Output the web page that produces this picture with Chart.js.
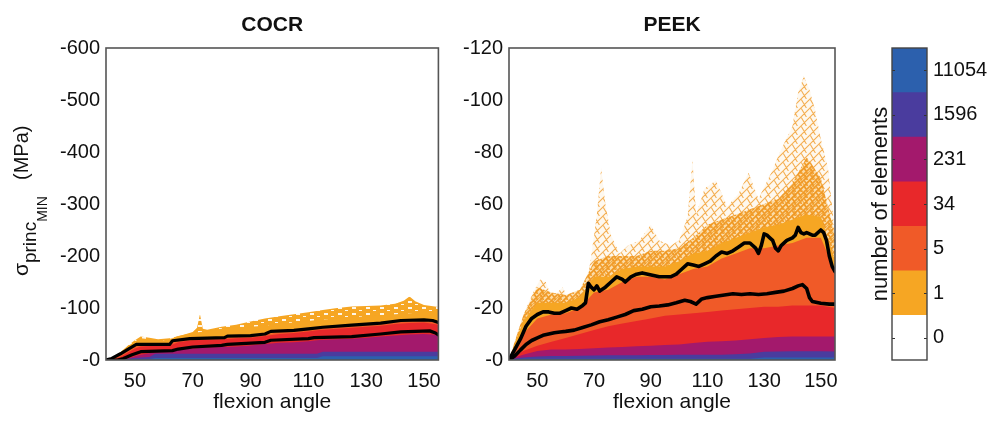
<!DOCTYPE html>
<html><head><meta charset="utf-8">
<script src="https://cdn.jsdelivr.net/npm/chart.js@4.4.1/dist/chart.umd.min.js"></script>
<style>
html,body{margin:0;padding:0;background:#fff;}
#wrap{position:relative;width:998px;height:426px;overflow:hidden;background:#fff;}
canvas{position:absolute;top:0;}
</style></head><body>
<div id="wrap">
<canvas id="c1" width="450" height="426" style="left:0;width:450px;height:426px"></canvas>
<canvas id="c2" width="400" height="426" style="left:450px;width:400px;height:426px"></canvas>
<canvas id="c3" width="148" height="426" style="left:850px;width:148px;height:426px"></canvas>
</div>
<script>
// ---------- shared ----------
const xTicks = [50, 70, 90, 110, 130, 150];
const cocrYTicks = [-600, -500, -400, -300, -200, -100, 0];
const peekYTicks = [-120, -100, -80, -60, -40, -20, 0];
const cbLabels = ['0', '1', '5', '34', '231', '1596', '11054'];
const cbColors = ['#ffffff', '#f6a623', '#f05a28', '#e8282a', '#a3196c', '#4a3c9e', '#2c60ad'];

// ---------- COCR ----------
const cocrAngles = [40,42,45,48,50,52,55,57,60,63,65,70,75,80,85,90,95,100,105,110,113,115,120,125,130,135,140,145,150,155];
const cocrBlue = [0,0,0,-1,-1,-1.5,-2,-4,-4,-4,-4,-4,-4,-4,-4,-4,-4,-4,-4,-4,-4,-7,-7,-7,-7,-7,-7,-7,-7,-7];
const cocrIndigo = [0,0,-1,-3,-4,-5,-6,-12,-12,-12,-12,-12,-12,-12,-12,-12,-12,-12,-12,-12,-12,-16,-16,-16,-16,-16,-16,-16,-16,-16];
const cocrMagenta = [0,0,-1,-4,-7,-10,-13,-15,-16,-17,-19,-22,-24,-25,-26,-28,-31,-33,-34,-36,-38,-39,-40,-41,-43,-45,-47,-49,-50,-48];
const cocrRed = [0,-1,-6,-16,-22,-26,-27,-27,-27,-30,-34,-38,-39,-40,-42,-43,-46,-50,-52,-55,-57,-58,-60,-62,-64,-66,-69,-71,-72,-68];
const cocrOrangeRed = [0,-2,-10,-20,-26,-29,-30,-30,-30,-34,-37,-40,-41,-42,-44,-46,-49,-54,-56,-59,-61,-62,-64,-66,-68,-70,-73,-75,-76,-72];
const cocrOrange = [0,-3,-15,-28,-36,-42,-40,-38,-38,-42,-46,-52,-56,-60,-63,-64,-66,-70,-72,-75,-77,-78,-80,-82,-84,-86,-88,-90,-92,-92];
const cocrSparseX = [40,42,45,48,50,52,55,58,62,66,70,71.5,72.5,73.5,75,80,85,90,95,100,105,110,115,120,125,130,135,140,143,145,147,150,155];
const cocrSparseY = [0,-3,-15,-30,-38,-45,-43,-40,-42,-47,-54,-62,-88,-60,-58,-64,-68,-74,-80,-84,-88,-92,-96,-100,-103,-104,-105,-108,-114,-122,-113,-106,-102];
const cocrUpperX = [40,42,45,48,50.5,62,63,69,81,82,90,95,97,105,110,115,125,135,142,150,153,155];
const cocrUpperY = [0,-3,-12,-22,-30,-30,-37,-41,-43,-46,-47,-50,-55,-57,-60,-63,-67,-71,-76,-77,-76,-72];
const cocrLowerX = [40,44,46,49,52,63,65,70,80,82,95,97,110,112,125,135,142,152,154,155];
const cocrLowerY = [0,0,-3,-10,-16,-18,-21,-25,-28,-30,-34,-38,-41,-43,-45,-50,-54,-56,-52,-48];

// ---------- PEEK ----------
const peekAngles = [40,42,45,50,55,60,65,70,75,80,85,90,95,100,105,110,115,120,125,130,135,140,145,150,155];
const peekBlue = [0,-0.3,-0.5,-0.5,-0.5,-0.5,-0.5,-0.5,-0.5,-0.5,-0.5,-0.5,-0.5,-0.5,-0.5,-0.5,-0.5,-0.5,-0.5,-1,-1,-1,-1,-1,-1];
const peekIndigo = [0,-0.6,-1,-1.3,-1.5,-1.5,-1.6,-1.7,-1.8,-1.8,-1.8,-1.9,-1.9,-2,-2,-2,-2,-2.2,-2.5,-3.2,-3.3,-3.4,-3.4,-3.4,-3.3];
const peekMagenta = [0,-1,-2,-3.5,-4,-4,-4.2,-4.5,-4.8,-5,-5.3,-5.5,-5.8,-6,-6.5,-7,-7.2,-7.5,-8,-8.5,-8.8,-9,-9,-9,-9];
const peekRed = [0,-1.5,-3.5,-5.5,-7,-8.5,-10,-11.5,-13,-14,-15,-16,-17,-17.5,-18,-18.5,-19,-19.5,-20,-20.5,-20.5,-21,-21,-21,-20];
const peekOrangeRed = [0,-4,-10,-16,-17.5,-18,-20,-26,-27,-30,-32,-32,-31,-33,-35,-36,-39,-41,-43,-43,-44,-45,-47,-47,-34];
const peekOrange = [0,-6,-15,-22,-22,-22,-24,-32,-32,-35,-36,-36,-36,-38,-41,-42,-45,-47,-49,-51,-52,-54,-56,-55,-38];
const peekMid = [0,-7,-17,-28,-26,-25,-27,-38,-40,-40,-40,-42,-42,-43,-47,-52,-54,-56,-58,-60,-62,-68,-78,-70,-48];
const peekSparseX = [40,43,46,49,51,53,55,57,59,61,64,67,69,71,72.5,74,76,79,82,86,90,93,97,100,103,104.7,106,109,113,117,121,124.5,128,132.5,136,140,142,144,146,148,150,152.5,154.3,155];
const peekSparseY = [0,-10,-20,-27,-31,-30,-24,-26,-28,-23,-25,-26,-40,-56,-74,-60,-48,-41,-44,-46,-52,-46,-44,-46,-55,-77,-56,-66,-69,-59,-64,-72,-62,-72,-81,-90,-103,-109,-104,-96,-85,-74,-56,-45];
const peekUpperX = [40,42,44,46,48,50,52,54,56,58,60,62,64,66,67,68,69,70,71,72,74,76,78,80,81,83,85,87,89,91,93,95,97,99,101,103,105,107,109,111,113,115,117,119,121,123,125,127,128,129,130,131,132,133,134,135,136,138,140,141,142,143,144,145,146,147,148,150,151,152,153,154,155];
const peekUpperY = [0,-4,-8,-13,-16,-17.5,-18.5,-18.5,-18,-18,-19,-20,-19.5,-21,-22,-29.5,-28,-27,-28.5,-26.5,-28,-30,-32,-31,-30,-32,-33,-33.5,-33,-32.5,-32,-32,-32,-33,-35,-37,-36.5,-36,-37,-38,-40,-41.5,-41,-42,-43.5,-45,-45,-43,-41,-44,-48.5,-48,-47,-46,-43,-42,-44,-46,-47,-48,-51,-49,-48.5,-49,-48.5,-48,-48,-50,-49,-46,-40,-36,-34];
const peekLowerX = [40,42,44,46,48,50,52,54,56,58,60,63,66,69,72,75,78,81,84,87,90,93,96,99,102,104,106,108,110,113,116,119,122,125,128,131,134,137,140,142,143.5,145,146,147,150,153,155];
const peekLowerY = [0,-1.5,-3.8,-6,-7.5,-8.5,-9.5,-10,-10.5,-10.8,-11,-11.5,-12.5,-13.5,-14.7,-15.5,-16.5,-17.5,-19,-19.5,-20.5,-20.8,-21.2,-22,-23,-22.5,-21.5,-23.5,-24,-24.5,-25,-25.5,-25.2,-25.5,-25.2,-25.5,-26,-26.5,-27.5,-28.5,-29,-27.5,-24,-22.5,-21.8,-21.5,-21.5];

// ---------- helpers ----------
Chart.defaults.font.family = "'Liberation Sans', Arial, Helvetica, sans-serif";
Chart.defaults.color = '#111';

function hatch(size, lineAlpha, bgAlpha, lw) {
  const c = document.createElement('canvas');
  c.width = size; c.height = size;
  const g = c.getContext('2d');
  g.fillStyle = 'rgba(246,166,35,' + bgAlpha + ')';
  g.fillRect(0, 0, size, size);
  g.strokeStyle = 'rgba(240,150,30,' + lineAlpha + ')';
  g.lineWidth = lw;
  g.beginPath();
  g.moveTo(0, size); g.lineTo(size, 0);
  g.moveTo(-size / 2, size / 2); g.lineTo(size / 2, -size / 2);
  g.moveTo(size / 2, size * 1.5); g.lineTo(size * 1.5, size / 2);
  g.moveTo(0, 0); g.lineTo(size * 0.6, size);
  g.stroke();
  return g.createPattern(c, 'repeat');
}

function speckle() {
  const c = document.createElement('canvas');
  c.width = 14; c.height = 6;
  const g = c.getContext('2d');
  g.fillStyle = '#f6a623';
  g.fillRect(0, 0, 14, 6);
  g.fillStyle = 'rgba(255,255,255,0.9)';
  g.fillRect(2, 1, 4, 2);
  g.fillRect(9, 4, 3, 1);
  return g.createPattern(c, 'repeat');
}

function pts(xs, ys) { return xs.map((x, i) => ({ x: x, y: ys[i] })); }
function band(xs, ys, color) {
  return { data: pts(xs, ys), borderWidth: 0, borderColor: 'rgba(0,0,0,0)', pointRadius: 0,
           fill: 'origin', backgroundColor: color, tension: 0 };
}
function bline(xs, ys, w) {
  return { data: pts(xs, ys), borderColor: '#000', borderWidth: w, pointRadius: 0, fill: false,
           tension: 0, borderJoinStyle: 'round', borderCapStyle: 'round' };
}

const framePlugin = {
  id: 'frame',
  afterDatasetsDraw(chart) {
    const a = chart.chartArea, ctx = chart.ctx;
    ctx.save();
    ctx.strokeStyle = '#555';
    ctx.lineWidth = 1.6;
    ctx.strokeRect(a.left, a.top, a.right - a.left, a.bottom - a.top);
    ctx.restore();
  }
};

function titlePlugin(text) {
  return {
    id: 'ptitle',
    afterDraw(chart) {
      const a = chart.chartArea, ctx = chart.ctx;
      ctx.save();
      ctx.font = "bold 21px 'Liberation Sans', Arial, sans-serif";
      ctx.fillStyle = '#111';
      ctx.textAlign = 'center';
      ctx.textBaseline = 'middle';
      ctx.fillText(text, (a.left + a.right) / 2, 25);
      ctx.restore();
    }
  };
}

const ylabelPlugin = {
  id: 'ylabel',
  afterDraw(chart) {
    const ctx = chart.ctx;
    ctx.save();
    ctx.translate(28, 276);
    ctx.rotate(-Math.PI / 2);
    ctx.fillStyle = '#111';
    ctx.textAlign = 'left';
    ctx.textBaseline = 'alphabetic';
    ctx.font = "21px 'Liberation Sans', Arial, sans-serif";
    ctx.fillText('\u03c3', 0, 0);
    let w = ctx.measureText('\u03c3').width;
    ctx.font = "19px 'Liberation Sans', Arial, sans-serif";
    ctx.fillText('princ', w, 8);
    w += ctx.measureText('princ').width;
    ctx.font = "14px 'Liberation Sans', Arial, sans-serif";
    ctx.fillText('MIN', w, 19);
    ctx.font = "20px 'Liberation Sans', Arial, sans-serif";
    ctx.fillText('(MPa)', 96, 0);
    ctx.restore();
  }
};

function panel(id, o) {
  const ds = [
    bline(o.upX, o.upY, o.lw),
    bline(o.loX, o.loY, o.lw),
    band(o.ang, o.blue, cbColors[6]),
    band(o.ang, o.indigo, cbColors[5]),
    band(o.ang, o.magenta, cbColors[4]),
    band(o.ang, o.red, cbColors[3]),
    band(o.ang, o.orangeRed, cbColors[2]),
    band(o.ang, o.orange, cbColors[1])
  ];
  if (o.mid) ds.push(band(o.ang, o.mid, o.midColor));
  ds.push(band(o.spX, o.spY, o.sparseColor));
  return new Chart(document.getElementById(id), {
    type: 'line',
    data: { datasets: ds },
    options: {
      responsive: false, animation: false, events: [],
      layout: { padding: { left: 0, right: o.padRight, top: 48, bottom: 0 } },
      plugins: { legend: { display: false }, tooltip: { enabled: false }, title: { display: false } },
      scales: {
        x: {
          type: 'linear', min: 40, max: 155,
          afterBuildTicks: s => { s.ticks = xTicks.map(v => ({ value: v })); },
          afterFit: s => { s.height = 66; },
          grid: { display: false, drawTicks: false },
          border: { display: false },
          ticks: { font: { size: 20 }, color: '#111', padding: 9, maxRotation: 0, autoSkip: false },
          title: { display: true, text: 'flexion angle', font: { size: 21 }, color: '#111', padding: { top: 0, bottom: 11 } }
        },
        y: {
          type: 'linear', min: o.yTicks[0], max: 0, reverse: true,
          afterBuildTicks: s => { s.ticks = o.yTicks.map(v => ({ value: v })); },
          afterFit: s => { s.width = o.yWidth; },
          grid: { display: false, drawTicks: false },
          border: { display: false },
          ticks: { font: { size: 20 }, color: '#111', padding: 6, autoSkip: false,
                   callback: v => (v === 0 ? '-0' : String(v)) }
        }
      }
    },
    plugins: o.extra.concat([framePlugin, titlePlugin(o.title)])
  });
}

panel('c1', {
  title: 'COCR', yTicks: cocrYTicks, yWidth: 106, padRight: 8.5, lw: 3.2,
  ang: cocrAngles, blue: cocrBlue, indigo: cocrIndigo, magenta: cocrMagenta, red: cocrRed,
  orangeRed: cocrOrangeRed, orange: cocrOrange, spX: cocrSparseX, spY: cocrSparseY,
  sparseColor: speckle(),
  upX: cocrUpperX, upY: cocrUpperY, loX: cocrLowerX, loY: cocrLowerY, extra: [ylabelPlugin]
});

panel('c2', {
  title: 'PEEK', yTicks: peekYTicks, yWidth: 59, padRight: 15, lw: 3.6,
  ang: peekAngles, blue: peekBlue, indigo: peekIndigo, magenta: peekMagenta, red: peekRed,
  orangeRed: peekOrangeRed, orange: peekOrange, mid: peekMid, midColor: hatch(6, 0.9, 0.35, 1.6),
  spX: peekSparseX, spY: peekSparseY,
  sparseColor: hatch(9, 0.75, 0.08, 1.1),
  upX: peekUpperX, upY: peekUpperY, loX: peekLowerX, loY: peekLowerY, extra: []
});

// ---------- colour bar ----------
const cbPlugin = {
  id: 'cb',
  afterDraw(chart) {
    const a = chart.chartArea, ctx = chart.ctx, y = chart.scales.y;
    ctx.save();
    ctx.strokeStyle = '#333';
    ctx.lineWidth = 1;
    cbLabels.forEach((_, i) => {
      const p = Math.round(y.getPixelForValue(i + 0.5)) + 0.5;
      ctx.beginPath();
      ctx.moveTo(a.left, p); ctx.lineTo(a.left + 3, p);
      ctx.moveTo(a.right, p); ctx.lineTo(a.right - 3, p);
      ctx.stroke();
    });
    ctx.strokeStyle = '#444';
    ctx.lineWidth = 1.4;
    ctx.strokeRect(a.left, a.top, a.right - a.left, a.bottom - a.top);
    ctx.translate(37, (a.top + a.bottom) / 2);
    ctx.rotate(-Math.PI / 2);
    ctx.font = "22px 'Liberation Sans', Arial, sans-serif";
    ctx.fillStyle = '#111';
    ctx.textAlign = 'center';
    ctx.textBaseline = 'alphabetic';
    ctx.fillText('number of elements', 0, 0);
    ctx.restore();
  }
};

new Chart(document.getElementById('c3'), {
  type: 'bar',
  data: { labels: [''], datasets: cbColors.map(c => ({ data: [1], backgroundColor: c, borderWidth: 0,
          barPercentage: 1, categoryPercentage: 1 })) },
  options: {
    responsive: false, animation: false, events: [],
    layout: { padding: { left: 42, right: 0, top: 48, bottom: 66 } },
    plugins: { legend: { display: false }, tooltip: { enabled: false } },
    scales: {
      x: { stacked: true, display: false },
      y: {
        stacked: true, min: 0, max: 7, position: 'right',
        afterBuildTicks: s => { s.ticks = cbLabels.map((_, i) => ({ value: i + 0.5 })); },
        afterFit: s => { s.width = 71; },
        grid: { display: false, drawTicks: false },
        border: { display: false },
        ticks: { font: { size: 20 }, color: '#111', padding: 6, autoSkip: false,
                 callback: (v, i) => cbLabels[i] }
      }
    }
  },
  plugins: [cbPlugin]
});
</script>
</body></html>
